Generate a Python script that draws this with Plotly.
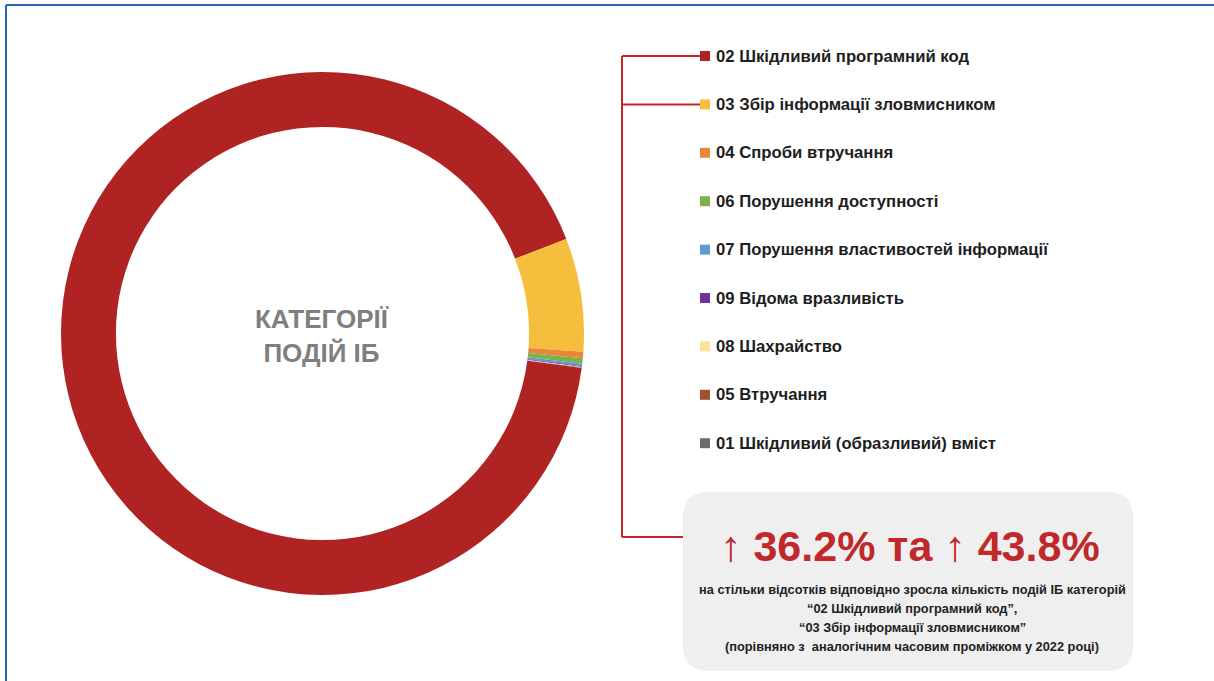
import plotly.graph_objects as go

# Share of information-security events by category
categories = [
    "02 Шкідливий програмний код",
    "03 Збір інформації зловмисником",
    "04 Спроби втручання",
    "06 Порушення доступності",
    "07 Порушення властивостей інформації",
    "09 Відома вразливість",
    "08 Шахрайство",
    "05 Втручання",
    "01 Шкідливий (образливий) вміст",
]
shares = [92.0, 7.0, 0.4, 0.33, 0.15, 0.06, 0.03, 0.02, 0.01]
colors = ["#AF2322", "#F5BF3D", "#E8873A", "#7CB24B", "#5C9BD6",
          "#7130A0", "#FBE29B", "#A0522D", "#6B6B6B"]

center_title = "КАТЕГОРІЇ<br>ПОДІЙ ІБ"
growth_headline = "↑ 36.2% та ↑ 43.8%"
growth_note = [
    "на стільки відсотків відповідно зросла кількість подій ІБ категорій",
    "“02 Шкідливий програмний код”,",
    "“03 Збір інформації зловмисником”",
    "(порівняно з  аналогічним часовим проміжком у 2022 році)",
]

W, H = 1214, 681
RED = "#C0282A"
FONT = "Liberation Sans, Arial, sans-serif"

fig = go.Figure()

fig.add_trace(go.Pie(
    labels=categories,
    values=shares,
    marker=dict(colors=colors, line=dict(width=0)),
    hole=0.79,
    sort=False,
    direction="clockwise",
    rotation=97.6,
    textinfo="none",
    showlegend=False,
    domain=dict(x=[60 / W, 585 / W], y=[1 - 595 / H, 1 - 72 / H]),
))

annotations = []
shapes = []

# Centre caption
annotations.append(dict(
    x=322, y=336, xref="x", yref="y", text=f"<b>{center_title}</b>",
    showarrow=False, font=dict(family=FONT, size=26, color="#7F7F7F"),
    align="center", xanchor="center", yanchor="middle",
))

# Category list with coloured markers
row_y0, row_step = 56, 48.4
for i, (name, col) in enumerate(zip(categories, colors)):
    y = row_y0 + i * row_step
    shapes.append(dict(type="rect", xref="x", yref="y",
                       x0=700, x1=710, y0=y - 5, y1=y + 5,
                       fillcolor=col, line=dict(width=0)))
    annotations.append(dict(
        x=714, y=y, xref="x", yref="y", text=f"<b>{name}</b>",
        showarrow=False, xanchor="left", yanchor="middle",
        font=dict(family=FONT, size=16.7, color="#1E1E1E"),
    ))

# Bracket linking the two leading categories to the note box
shapes.append(dict(type="line", xref="x", yref="y", x0=622, x1=622,
                   y0=row_y0, y1=537, line=dict(color=RED, width=2)))
for y in (row_y0, row_y0 + row_step):
    shapes.append(dict(type="line", xref="x", yref="y", x0=622, x1=700,
                       y0=y, y1=y, line=dict(color=RED, width=2)))
shapes.append(dict(type="line", xref="x", yref="y", x0=622, x1=683,
                   y0=537, y1=537, line=dict(color=RED, width=2)))

# Rounded grey note box
bx0, bx1, by0, by1, r = 683, 1133, 492, 671, 26
box_path = (f"M {bx0 + r},{by0} L {bx1 - r},{by0} Q {bx1},{by0} {bx1},{by0 + r} "
            f"L {bx1},{by1 - r} Q {bx1},{by1} {bx1 - r},{by1} "
            f"L {bx0 + r},{by1} Q {bx0},{by1} {bx0},{by1 - r} "
            f"L {bx0},{by0 + r} Q {bx0},{by0} {bx0 + r},{by0} Z")
shapes.append(dict(type="path", xref="x", yref="y", path=box_path,
                   fillcolor="#EFEFEF", line=dict(width=0), layer="below"))

annotations.append(dict(
    x=910, y=546, xref="x", yref="y", text=f"<b>{growth_headline}</b>",
    showarrow=False, xanchor="center", yanchor="middle",
    font=dict(family=FONT, size=43, color=RED),
))
for j, line in enumerate(growth_note):
    annotations.append(dict(
        x=912, y=589 + j * 19.3, xref="x", yref="y", text=f"<b>{line}</b>",
        showarrow=False, xanchor="center", yanchor="middle",
        font=dict(family=FONT, size=12.8, color="#222222"),
    ))

# Thin blue frame along the top and left edges
shapes.append(dict(type="line", xref="x", yref="y", x0=6, x1=W + 5,
                   y0=5, y1=5, line=dict(color="#2468B4", width=2)))
shapes.append(dict(type="line", xref="x", yref="y", x0=6, x1=6,
                   y0=5, y1=H + 5, line=dict(color="#2468B4", width=2)))

fig.update_layout(
    width=W, height=H,
    margin=dict(l=0, r=0, t=0, b=0),
    paper_bgcolor="white", plot_bgcolor="rgba(0,0,0,0)",
    xaxis=dict(range=[0, W], visible=False, fixedrange=True),
    yaxis=dict(range=[H, 0], visible=False, fixedrange=True),
    shapes=shapes, annotations=annotations,
)

fig.write_html("out.html")
